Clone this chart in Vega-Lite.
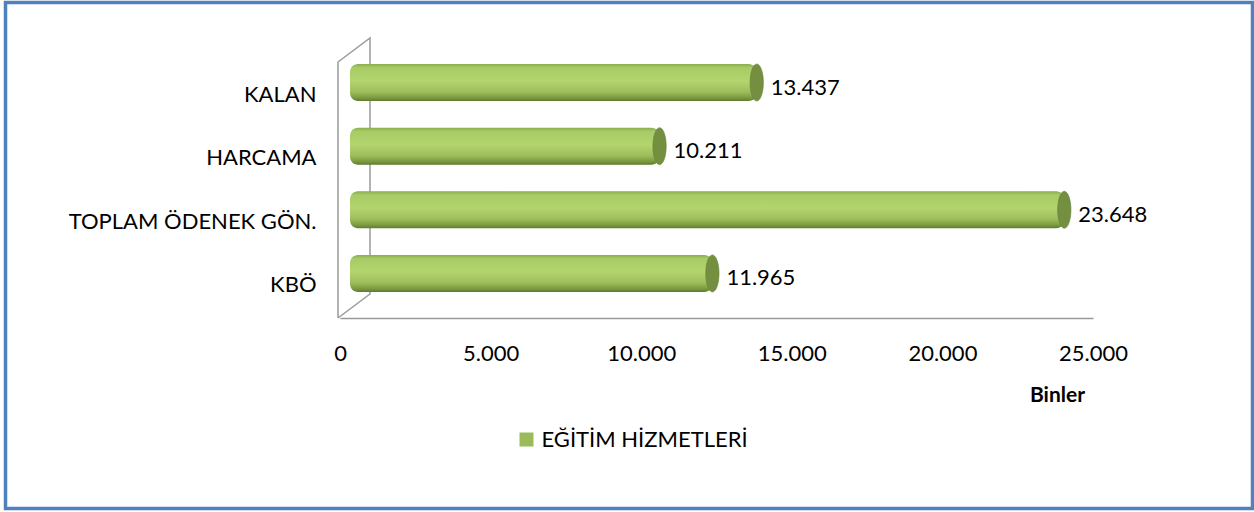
{
  "$schema": "https://vega.github.io/schema/vega-lite/v6.json",
  "width": 1247,
  "height": 506,
  "autosize": {"type": "none"},
  "padding": {"left": 5.5, "top": 2.5, "right": 1.5, "bottom": 3.5},
  "background": "white",
  "config": {
    "view": {"stroke": "#4f81bd", "strokeWidth": 3.5},
    "locale": {"number": {"decimal": ",", "thousands": ".", "grouping": [3], "currency": ["", " TL"]}},
    "font": "Lato"
  },
  "datasets": {
    "main": [
      {"cat": "KALAN", "value": 13437, "series": "EĞİTİM HİZMETLERİ"},
      {"cat": "HARCAMA", "value": 10211, "series": "EĞİTİM HİZMETLERİ"},
      {"cat": "TOPLAM ÖDENEK GÖN.", "value": 23648, "series": "EĞİTİM HİZMETLERİ"},
      {"cat": "KBÖ", "value": 11965, "series": "EĞİTİM HİZMETLERİ"}
    ],
    "frame": [
      {"value": -66, "fy": 0, "o": 1},
      {"value": -66, "fy": 256, "o": 2},
      {"value": 996, "fy": 280, "o": 3},
      {"value": 996, "fy": 24, "o": 4},
      {"value": -66, "fy": 0, "o": 5}
    ]
  },
  "encoding": {
    "x": {
      "field": "value",
      "type": "quantitative",
      "stack": null,
      "scale": {"domain": [0, 25000], "range": [334.5, 1087.5], "nice": false, "zero": false},
      "axis": {
        "values": [0, 5000, 10000, 15000, 20000, 25000],
        "format": ",d",
        "labelFont": "Lato",
        "labelFontSize": 22,
        "labelColor": "#000000",
        "labelPadding": 25,
        "labelFlush": false,
        "labelOverlap": false,
        "ticks": false,
        "grid": false,
        "domainColor": "#9a9a9a",
        "domainWidth": 1.5,
        "offset": -190.5,
        "title": "Binler",
        "titleFont": "Lato",
        "titleFontSize": 21,
        "titleFontWeight": "bold",
        "titleColor": "#000000",
        "titleX": 1051.5,
        "titleY": 77,
        "titleAlign": "center",
        "titleBaseline": "middle"
      }
    }
  },
  "layer": [
    {
      "data": {"name": "frame"},
      "mark": {"type": "line", "stroke": "#9a9a9a", "strokeWidth": 1.5},
      "encoding": {
        "y": {"field": "fy", "type": "quantitative", "scale": {"domain": [0, 280], "range": [315.5, 35.5], "nice": false, "zero": false}, "axis": null},
        "order": {"field": "o", "type": "quantitative"}
      }
    },
    {
      "data": {"name": "main"},
      "encoding": {
        "y": {
          "field": "cat",
          "type": "nominal",
          "sort": ["KALAN", "HARCAMA", "TOPLAM ÖDENEK GÖN.", "KBÖ"],
          "scale": {"range": [35.5, 315.5], "paddingInner": 0.42, "paddingOuter": 0.41},
          "axis": {
            "orient": "left",
            "title": null,
            "domain": false,
            "ticks": false,
            "labelFont": "Lato",
            "labelFontSize": 22,
            "labelFontWeight": "normal",
            "labelColor": "#000000",
            "labelLimit": 0,
            "labelPadding": 22,
            "labelOffset": 12,
            "offset": -332.5
          }
        }
      },
      "layer": [
        {
          "mark": {
            "type": "bar",
            "xOffset": 12,
            "x2Offset": 10,
            "cornerRadius": 8,
            "fill": {
              "gradient": "linear", "x1": 0, "y1": 0, "x2": 0, "y2": 1,
              "stops": [
                {"offset": 0, "color": "#8cac4f"},
                {"offset": 0.1, "color": "#a9cb66"},
                {"offset": 0.45, "color": "#b3d56e"},
                {"offset": 0.75, "color": "#9ebe5b"},
                {"offset": 0.92, "color": "#7a9840"},
                {"offset": 1, "color": "#5e7a2d"}
              ]
            }
          },
          "encoding": {
            "x2": {"datum": 0}
          }
        },
        {
          "mark": {
            "type": "point",
            "shape": "M0,-1 A0.36,1 0 1,1 0,1 A0.36,1 0 1,1 0,-1 Z",
            "size": 1369,
            "filled": true,
            "fill": "#748f3f",
            "stroke": "#67803a",
            "strokeWidth": 0.6,
            "opacity": 1,
            "xOffset": 12
          }
        },
        {
          "mark": {"type": "text", "align": "left", "baseline": "middle", "dx": 26, "dy": 5, "font": "Lato", "fontSize": 22, "color": "#000000"},
          "encoding": {"text": {"field": "value", "type": "quantitative", "format": ",d"}}
        },
        {
          "transform": [{"filter": "false"}],
          "mark": {"type": "point", "shape": "square", "filled": true, "opacity": 1},
          "encoding": {
            "color": {
              "field": "series",
              "type": "nominal",
              "scale": {"domain": ["EĞİTİM HİZMETLERİ"], "range": ["#9bbb59"]},
              "legend": {
                "orient": "none",
                "legendX": 510,
                "legendY": 426,
                "title": null,
                "symbolType": "square",
                "symbolSize": 196,
                "symbolOpacity": 1,
                "symbolStrokeWidth": 0,
                "labelFont": "Lato",
                "labelFontSize": 22,
                "labelColor": "#000000",
                "labelLimit": 0,
                "labelOffset": 4,
                "padding": 0
              }
            }
          }
        }
      ]
    }
  ],
  "resolve": {"scale": {"y": "independent"}, "axis": {"y": "independent"}}
}
